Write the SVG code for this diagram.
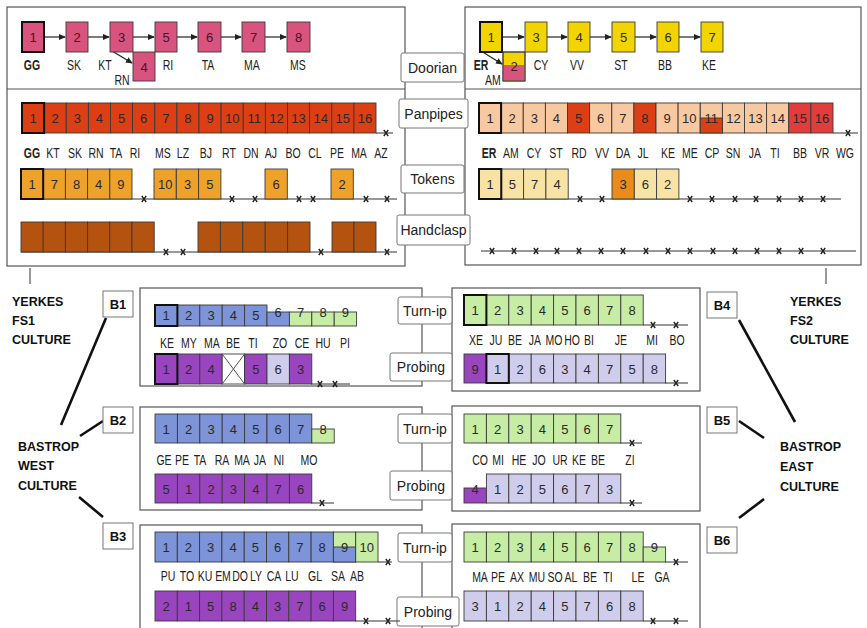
<svg xmlns="http://www.w3.org/2000/svg" xmlns:xlink="http://www.w3.org/1999/xlink" width="867" height="628" viewBox="0 0 867 628">
<defs>
<style>
.pan{fill:none;stroke:#555;stroke-width:1.2}
.c{stroke:#3a3a3a;stroke-width:0.9}
.tk{fill:none;stroke:#111;stroke-width:2}
.n{font-family:"Liberation Sans",Arial,sans-serif;font-size:13px;text-anchor:middle;fill:#2a2a2a}
.l{font-family:"Liberation Sans",Arial,sans-serif;font-size:14px;text-anchor:middle;fill:#222}
.b{font-weight:bold}
.lb{fill:#fff;stroke:#777;stroke-width:1}
.lt{font-family:"Liberation Sans",Arial,sans-serif;font-size:14px;text-anchor:middle;fill:#222}
.bt{font-family:"Liberation Sans",Arial,sans-serif;font-size:13px;font-weight:bold;text-anchor:middle;fill:#111}
.ct{font-family:"Liberation Sans",Arial,sans-serif;font-size:12.5px;font-weight:bold;fill:#111}
.bl{fill:none;stroke:#333;stroke-width:1}
.ar{stroke:#222;stroke-width:1.2;fill:none;marker-end:url(#ah)}
.sl{stroke:#111;stroke-width:2.6}
.pk{fill:#d9537f}.ye{fill:#f2d500}.rd{fill:#dc3f14}.pe{fill:#f8c9a1}.cr{fill:#e23c3c}
.or{fill:#efa22a}.ly{fill:#f8e3a5}.do{fill:#e98c1a}.br{fill:#b4530f}
.bu{fill:#7d94d8}.gr{fill:#c7eda4}.pu{fill:#9a45c0}.lv{fill:#d0cdec}
</style>
<marker id="ah" markerWidth="7" markerHeight="6" refX="6" refY="3" orient="auto" markerUnits="userSpaceOnUse">
<path d="M0,0 L7,3 L0,6 z" fill="#222"/>
</marker>
<g id="xm"><path d="M-2.2,-3 L2.2,3 M2.2,-3 L-2.2,3" stroke="#222" stroke-width="1.4"/></g>
</defs>
<rect width="867" height="628" fill="#fff"/>

<!-- panels -->
<g id="panels">
<rect class="pan" x="7" y="7" width="398" height="259"/>
<line class="pan" x1="7" y1="89" x2="405" y2="89"/>
<rect class="pan" x="465" y="7" width="396" height="258"/>
<line class="pan" x1="465" y1="89" x2="861" y2="89"/>
<rect class="pan" x="140" y="288" width="282" height="98"/>
<rect class="pan" x="452" y="288" width="248" height="103"/>
<rect class="pan" x="140" y="407" width="282" height="103"/>
<rect class="pan" x="452" y="406" width="248" height="105"/>
<rect class="pan" x="140" y="525" width="282" height="120"/>
<rect class="pan" x="452" y="524" width="248" height="120"/>
</g>

<!-- connectors -->
<g id="connectors">
<line class="ar" x1="44" y1="37" x2="65" y2="37"/>
<line class="ar" x1="88" y1="37" x2="109" y2="37"/>
<line class="ar" x1="133" y1="37" x2="154" y2="37"/>
<line class="ar" x1="177" y1="37" x2="197" y2="37"/>
<line class="ar" x1="221" y1="37" x2="241" y2="37"/>
<line class="ar" x1="265" y1="37" x2="286" y2="37"/>
<line class="ar" x1="112" y1="51" x2="132" y2="63"/>
<line class="ar" x1="502" y1="37" x2="524" y2="37"/>
<line class="ar" x1="547" y1="37" x2="567" y2="37"/>
<line class="ar" x1="590" y1="37" x2="611" y2="37"/>
<line class="ar" x1="635" y1="37" x2="656" y2="37"/>
<line class="ar" x1="679" y1="37" x2="700" y2="37"/>
<line class="ar" x1="481" y1="51" x2="502" y2="64"/>
<line class="bl" x1="30" y1="268" x2="30" y2="284"/>
<line class="bl" x1="826" y1="268" x2="826" y2="284"/>
<line class="sl" x1="106" y1="318" x2="61" y2="425"/>
<line class="sl" x1="103" y1="421" x2="80" y2="436"/>
<line class="sl" x1="79" y1="497" x2="103" y2="517"/>
<line class="sl" x1="739" y1="320" x2="795" y2="422"/>
<line class="sl" x1="739" y1="421" x2="764" y2="438"/>
<line class="sl" x1="764" y1="499" x2="739" y2="518"/>
</g>

<!-- centre labels -->
<g id="lab-doorian"><rect class="lb" x="401" y="53" width="63" height="29" rx="2"/><text class="lt" x="432.5" y="72.5">Doorian</text></g>
<g id="lab-panpipes"><rect class="lb" x="399" y="99" width="69" height="29" rx="2"/><text class="lt" x="433.5" y="118.5">Panpipes</text></g>
<g id="lab-tokens"><rect class="lb" x="401" y="165" width="63" height="28" rx="2"/><text class="lt" x="432.5" y="184">Tokens</text></g>
<g id="lab-handclasp"><rect class="lb" x="397" y="215" width="73" height="30" rx="2"/><text class="lt" x="433.5" y="235">Handclasp</text></g>

<!-- Doorian left -->
<g id="doorian-left">
<rect class="c pk" x="22" y="22" width="22" height="30"/><rect class="tk" x="22" y="22" width="22" height="30"/>
<rect class="c pk" x="66" y="22" width="22" height="30"/>
<rect class="c pk" x="110" y="22" width="23" height="30"/>
<rect class="c pk" x="133" y="52" width="22" height="29"/>
<rect class="c pk" x="155" y="22" width="22" height="30"/>
<rect class="c pk" x="198" y="22" width="23" height="30"/>
<rect class="c pk" x="242" y="22" width="23" height="30"/>
<rect class="c pk" x="287" y="22" width="23" height="30"/>
<g class="n" style="fill:#4a1028">
<text x="33" y="41.5">1</text><text x="77" y="41.5">2</text><text x="121.5" y="41.5">3</text><text x="144" y="71.5">4</text>
<text x="166" y="41.5">5</text><text x="209.5" y="41.5">6</text><text x="253.5" y="41.5">7</text><text x="298.5" y="41.5">8</text>
</g>
<g class="l" transform="scale(0.75,1)">
<text class="b" x="42.67" y="70">GG</text><text x="98.67" y="70">SK</text><text x="140" y="70">KT</text><text x="224" y="70">RI</text>
<text x="277.33" y="70">TA</text><text x="336" y="70">MA</text><text x="397.33" y="70">MS</text><text x="162.67" y="85">RN</text>
</g>
</g>

<!-- Doorian right -->
<g id="doorian-right">
<rect class="c ye" x="480" y="22" width="22" height="30"/><rect class="tk" x="480" y="22" width="22" height="30"/>
<rect class="c ye" x="503" y="52" width="22" height="29"/>
<rect class="pk" x="503.5" y="65" width="21" height="15.5"/>
<rect class="c" fill="none" x="503" y="52" width="22" height="29"/>
<rect class="c ye" x="525" y="22" width="22" height="30"/>
<rect class="c ye" x="568" y="22" width="22" height="30"/>
<rect class="c ye" x="612" y="22" width="23" height="30"/>
<rect class="c ye" x="657" y="22" width="22" height="30"/>
<rect class="c ye" x="701" y="22" width="22" height="30"/>
<g class="n">
<text x="491" y="41.5">1</text><text x="514" y="70.5">2</text><text x="536" y="41.5">3</text><text x="579" y="41.5">4</text>
<text x="623.5" y="41.5">5</text><text x="668" y="41.5">6</text><text x="712" y="41.5">7</text>
</g>
<g class="l" transform="scale(0.75,1)">
<text class="b" x="641.33" y="70">ER</text><text x="657.33" y="85">AM</text><text x="721.33" y="70">CY</text><text x="769.33" y="70">VV</text>
<text x="828" y="70">ST</text><text x="886.67" y="70">BB</text><text x="945.33" y="70">KE</text>
</g>
</g>

<!-- Panpipes left -->
<g id="panpipes-left">
<line class="bl" x1="376" y1="133" x2="393" y2="133"/><use xlink:href="#xm" x="386" y="133"/>
<g class="c rd">
<rect x="22" y="103" width="22.1" height="30"/><rect x="44.1" y="103" width="22.1" height="30"/><rect x="66.3" y="103" width="22.1" height="30"/><rect x="88.4" y="103" width="22.1" height="30"/>
<rect x="110.5" y="103" width="22.1" height="30"/><rect x="132.6" y="103" width="22.1" height="30"/><rect x="154.8" y="103" width="22.1" height="30"/><rect x="176.9" y="103" width="22.1" height="30"/>
<rect x="199" y="103" width="22.1" height="30"/><rect x="221.1" y="103" width="22.1" height="30"/><rect x="243.3" y="103" width="22.1" height="30"/><rect x="265.4" y="103" width="22.1" height="30"/>
<rect x="287.5" y="103" width="22.1" height="30"/><rect x="309.6" y="103" width="22.1" height="30"/><rect x="331.8" y="103" width="22.1" height="30"/><rect x="353.9" y="103" width="22.1" height="30"/>
</g>
<rect class="tk" x="22" y="103" width="22.1" height="30"/>
<g class="n">
<text x="33.1" y="122.5">1</text><text x="55.2" y="122.5">2</text><text x="77.3" y="122.5">3</text><text x="99.4" y="122.5">4</text>
<text x="121.6" y="122.5">5</text><text x="143.7" y="122.5">6</text><text x="165.8" y="122.5">7</text><text x="187.9" y="122.5">8</text>
<text x="210.1" y="122.5">9</text><text x="232.2" y="122.5">10</text><text x="254.3" y="122.5">11</text><text x="276.4" y="122.5">12</text>
<text x="298.6" y="122.5">13</text><text x="320.7" y="122.5">14</text><text x="342.8" y="122.5">15</text><text x="364.9" y="122.5">16</text>
</g>
<g class="l" transform="scale(0.75,1)">
<text class="b" x="42.67" y="158">GG</text><text x="70.67" y="158">KT</text><text x="100" y="158">SK</text><text x="128" y="158">RN</text>
<text x="154.67" y="158">TA</text><text x="180" y="158">RI</text><text x="217.33" y="158">MS</text><text x="244" y="158">LZ</text>
<text x="274.67" y="158">BJ</text><text x="305.33" y="158">RT</text><text x="334.67" y="158">DN</text><text x="361.33" y="158">AJ</text>
<text x="390.67" y="158">BO</text><text x="420" y="158">CL</text><text x="449.33" y="158">PE</text><text x="478.67" y="158">MA</text><text x="508" y="158">AZ</text>
</g>
</g>

<!-- Panpipes right -->
<g id="panpipes-right">
<line class="bl" x1="833" y1="133" x2="858" y2="133"/><use xlink:href="#xm" x="848" y="133"/>
<g class="c">
<rect class="pe" x="479" y="103" width="22.1" height="30"/><rect class="pe" x="501.1" y="103" width="22.1" height="30"/><rect class="pe" x="523.3" y="103" width="22.1" height="30"/><rect class="pe" x="545.4" y="103" width="22.1" height="30"/>
<rect class="rd" x="567.5" y="103" width="22.1" height="30"/><rect class="pe" x="589.6" y="103" width="22.1" height="30"/><rect class="pe" x="611.8" y="103" width="22.1" height="30"/><rect class="rd" x="633.9" y="103" width="22.1" height="30"/>
<rect class="pe" x="656" y="103" width="22.1" height="30"/><rect class="pe" x="678.1" y="103" width="22.1" height="30"/><rect class="pe" x="700.3" y="103" width="22.1" height="30"/><rect class="pe" x="722.4" y="103" width="22.1" height="30"/>
<rect class="pe" x="744.5" y="103" width="22.1" height="30"/><rect class="pe" x="766.6" y="103" width="22.1" height="30"/><rect class="cr" x="788.8" y="103" width="22.1" height="30"/><rect class="cr" x="810.9" y="103" width="22.1" height="30"/>
<rect class="rd" x="700.3" y="118" width="22.1" height="15"/>
</g>
<rect class="tk" x="479" y="103" width="22.1" height="30"/>
<g class="n">
<text x="490.1" y="122.5">1</text><text x="512.2" y="122.5">2</text><text x="534.3" y="122.5">3</text><text x="556.4" y="122.5">4</text>
<text x="578.6" y="122.5">5</text><text x="600.7" y="122.5">6</text><text x="622.8" y="122.5">7</text><text x="644.9" y="122.5">8</text>
<text x="667.1" y="122.5">9</text><text x="689.2" y="122.5">10</text><text x="711.3" y="122.5">11</text><text x="733.4" y="122.5">12</text>
<text x="755.6" y="122.5">13</text><text x="777.7" y="122.5">14</text><text x="799.8" y="122.5">15</text><text x="821.9" y="122.5">16</text>
</g>
<g class="l" transform="scale(0.75,1)">
<text class="b" x="652" y="158">ER</text><text x="681.33" y="158">AM</text><text x="712" y="158">CY</text><text x="741.33" y="158">ST</text>
<text x="772" y="158">RD</text><text x="802.67" y="158">VV</text><text x="830.67" y="158">DA</text><text x="857.33" y="158">JL</text>
<text x="890.67" y="158">KE</text><text x="920" y="158">ME</text><text x="949.33" y="158">CP</text><text x="977.33" y="158">SN</text>
<text x="1006.67" y="158">JA</text><text x="1033.33" y="158">TI</text><text x="1066.67" y="158">BB</text><text x="1096" y="158">VR</text><text x="1126.67" y="158">WG</text>
</g>
</g>

<!-- Tokens left -->
<g id="tokens-left">
<line class="bl" x1="21" y1="199" x2="397" y2="199"/>
<g class="c or">
<rect x="21" y="169" width="22.2" height="30"/><rect x="43.2" y="169" width="22.2" height="30"/><rect x="65.4" y="169" width="22.2" height="30"/><rect x="87.6" y="169" width="22.2" height="30"/><rect x="109.8" y="169" width="22.2" height="30"/>
<rect x="154" y="169" width="22.3" height="30"/><rect x="176.3" y="169" width="22.3" height="30"/><rect x="198.6" y="169" width="22.3" height="30"/>
<rect x="265" y="169" width="22.3" height="30"/>
<rect x="331" y="169" width="22.3" height="30"/>
</g>
<rect class="tk" x="21" y="169" width="22.2" height="30"/>
<g class="n">
<text x="32.1" y="188.5">1</text><text x="54.3" y="188.5">7</text><text x="76.5" y="188.5">8</text><text x="98.7" y="188.5">4</text><text x="120.9" y="188.5">9</text>
<text x="165.2" y="188.5">10</text><text x="187.5" y="188.5">3</text><text x="209.8" y="188.5">5</text><text x="276.2" y="188.5">6</text><text x="342.2" y="188.5">2</text>
</g>
<use xlink:href="#xm" x="144" y="199"/><use xlink:href="#xm" x="232" y="199"/><use xlink:href="#xm" x="255" y="199"/>
<use xlink:href="#xm" x="299" y="199"/><use xlink:href="#xm" x="313" y="199"/><use xlink:href="#xm" x="366" y="199"/><use xlink:href="#xm" x="387" y="199"/>
</g>

<!-- Handclasp left -->
<g id="handclasp-left">
<line class="bl" x1="21" y1="252" x2="397" y2="252"/>
<g class="c br">
<rect x="21" y="222" width="22.2" height="30"/><rect x="43.2" y="222" width="22.2" height="30"/><rect x="65.4" y="222" width="22.2" height="30"/><rect x="87.6" y="222" width="22.2" height="30"/><rect x="109.8" y="222" width="22.2" height="30"/><rect x="132" y="222" width="22.2" height="30"/>
<rect x="198" y="222" width="22.4" height="30"/><rect x="220.4" y="222" width="22.4" height="30"/><rect x="242.8" y="222" width="22.4" height="30"/><rect x="265.2" y="222" width="22.4" height="30"/><rect x="287.6" y="222" width="22.4" height="30"/>
<rect x="332" y="222" width="22" height="30"/><rect x="354" y="222" width="22" height="30"/>
</g>
<use xlink:href="#xm" x="166" y="252"/><use xlink:href="#xm" x="183" y="252"/><use xlink:href="#xm" x="321" y="252"/><use xlink:href="#xm" x="387" y="252"/>
</g>

<!-- Tokens right -->
<g id="tokens-right">
<line class="bl" x1="479" y1="199" x2="841" y2="199"/>
<g class="c">
<rect class="ly" x="479" y="169" width="22.3" height="30"/><rect class="ly" x="501.3" y="169" width="22.3" height="30"/><rect class="ly" x="523.6" y="169" width="22.3" height="30"/><rect class="ly" x="545.9" y="169" width="22.3" height="30"/>
<rect class="do" x="612" y="169" width="22.3" height="30"/><rect class="ly" x="634.3" y="169" width="22.3" height="30"/><rect class="ly" x="656.6" y="169" width="22.3" height="30"/>
</g>
<rect class="tk" x="479" y="169" width="22.3" height="30"/>
<g class="n">
<text x="490.1" y="188.5">1</text><text x="512.4" y="188.5">5</text><text x="534.7" y="188.5">7</text><text x="557" y="188.5">4</text>
<text x="623.1" y="188.5">3</text><text x="645.4" y="188.5">6</text><text x="667.7" y="188.5">2</text>
</g>
<use xlink:href="#xm" x="580" y="199"/><use xlink:href="#xm" x="602" y="199"/><use xlink:href="#xm" x="690" y="199"/><use xlink:href="#xm" x="712" y="199"/><use xlink:href="#xm" x="735" y="199"/>
<use xlink:href="#xm" x="756" y="199"/><use xlink:href="#xm" x="779" y="199"/><use xlink:href="#xm" x="801" y="199"/><use xlink:href="#xm" x="823" y="199"/>
</g>

<!-- Handclasp right -->
<g id="handclasp-right">
<line class="bl" x1="481" y1="251" x2="856" y2="251"/>
<use xlink:href="#xm" x="492" y="251"/><use xlink:href="#xm" x="514" y="251"/><use xlink:href="#xm" x="536" y="251"/><use xlink:href="#xm" x="557" y="251"/>
<use xlink:href="#xm" x="579" y="251"/><use xlink:href="#xm" x="601" y="251"/><use xlink:href="#xm" x="623" y="251"/><use xlink:href="#xm" x="646" y="251"/>
<use xlink:href="#xm" x="668" y="251"/><use xlink:href="#xm" x="690" y="251"/><use xlink:href="#xm" x="713" y="251"/><use xlink:href="#xm" x="735" y="251"/>
<use xlink:href="#xm" x="757" y="251"/><use xlink:href="#xm" x="779" y="251"/><use xlink:href="#xm" x="801" y="251"/><use xlink:href="#xm" x="823" y="251"/>
</g>

<!-- culture labels -->
<g id="yerkes-fs1"><text class="ct" x="12" y="306">YERKES</text><text class="ct" x="12" y="325">FS1</text><text class="ct" x="12" y="344">CULTURE</text></g>
<g id="yerkes-fs2"><text class="ct" x="790" y="306">YERKES</text><text class="ct" x="790" y="325">FS2</text><text class="ct" x="790" y="344">CULTURE</text></g>
<g id="bastrop-west"><text class="ct" x="18" y="451">BASTROP</text><text class="ct" x="18" y="470">WEST</text><text class="ct" x="18" y="490">CULTURE</text></g>
<g id="bastrop-east"><text class="ct" x="780" y="451">BASTROP</text><text class="ct" x="780" y="471">EAST</text><text class="ct" x="780" y="491">CULTURE</text></g>

<!-- B boxes -->
<g id="b1"><rect class="lb" x="103" y="291" width="30" height="26"/><text class="bt" x="118" y="309">B1</text></g>
<g id="b2"><rect class="lb" x="103" y="407" width="30" height="26"/><text class="bt" x="118" y="425">B2</text></g>
<g id="b3"><rect class="lb" x="103" y="523" width="30" height="26"/><text class="bt" x="118" y="541">B3</text></g>
<g id="b4"><rect class="lb" x="707" y="292" width="30" height="26"/><text class="bt" x="722" y="310">B4</text></g>
<g id="b5"><rect class="lb" x="707" y="407" width="30" height="26"/><text class="bt" x="722" y="425">B5</text></g>
<g id="b6"><rect class="lb" x="707" y="527" width="30" height="26"/><text class="bt" x="722" y="545">B6</text></g>

<!-- Turn-ip / Probing labels -->
<g id="lab-turnip-1"><rect class="lb" x="398" y="297" width="54" height="27" rx="2"/><text class="lt" x="425" y="315.5">Turn-ip</text></g>
<g id="lab-probing-1"><rect class="lb" x="390" y="353" width="62" height="28" rx="2"/><text class="lt" x="421" y="372">Probing</text></g>
<g id="lab-turnip-2"><rect class="lb" x="398" y="414" width="54" height="29" rx="2"/><text class="lt" x="425" y="433.5">Turn-ip</text></g>
<g id="lab-probing-2"><rect class="lb" x="390" y="471" width="62" height="29" rx="2"/><text class="lt" x="421" y="490.5">Probing</text></g>
<g id="lab-turnip-3"><rect class="lb" x="398" y="533" width="54" height="29" rx="2"/><text class="lt" x="425" y="552.5">Turn-ip</text></g>
<g id="lab-probing-3"><rect class="lb" x="397" y="597" width="62" height="29" rx="2"/><text class="lt" x="428" y="616.5">Probing</text></g>

<!-- B1 -->
<g id="b1-rows">
<g class="c">
<rect class="bu" x="155" y="305" width="22.4" height="21"/><rect class="bu" x="177.4" y="305" width="22.4" height="21"/><rect class="bu" x="199.8" y="305" width="22.4" height="21"/><rect class="bu" x="222.2" y="305" width="22.4" height="21"/><rect class="bu" x="244.6" y="305" width="22.4" height="21"/>
<rect class="bu" x="267" y="312" width="22.4" height="14"/><rect class="gr" x="289.4" y="312" width="22.4" height="14"/><rect class="gr" x="311.8" y="312" width="22.4" height="14"/><rect class="gr" x="334.2" y="312" width="22.4" height="14"/>
</g>
<rect class="tk" x="155" y="305" width="22.4" height="21"/>
<g class="n">
<text x="166.2" y="320">1</text><text x="188.6" y="320">2</text><text x="211" y="320">3</text><text x="233.4" y="320">4</text><text x="255.8" y="320">5</text>
<text x="278.2" y="316.5">6</text><text x="300.6" y="316.5">7</text><text x="323" y="316.5">8</text><text x="345.4" y="316.5">9</text>
</g>
<g class="l" transform="scale(0.75,1)">
<text x="222.67" y="348">KE</text><text x="252" y="348">MY</text><text x="282.67" y="348">MA</text><text x="310.67" y="348">BE</text><text x="337.33" y="348">TI</text>
<text x="373.33" y="348">ZO</text><text x="402.67" y="348">CE</text><text x="430.67" y="348">HU</text><text x="460" y="348">PI</text>
</g>
<line class="bl" x1="311" y1="384" x2="350" y2="384"/><use xlink:href="#xm" x="320" y="384"/><use xlink:href="#xm" x="335" y="384"/>
<g class="c">
<rect class="pu" x="155" y="354" width="22.4" height="30"/><rect class="pu" x="177.4" y="354" width="22.4" height="30"/><rect class="pu" x="199.8" y="354" width="22.4" height="30"/>
<rect fill="#fff" x="222.2" y="354" width="22.4" height="30"/>
<rect class="pu" x="244.6" y="354" width="22.4" height="30"/><rect class="lv" x="267" y="354" width="22.4" height="30"/><rect class="pu" x="289.4" y="354" width="22.4" height="30"/>
</g>
<path d="M222.2,354 L244.6,384 M244.6,354 L222.2,384" stroke="#555" stroke-width="1"/>
<rect class="tk" x="155" y="354" width="22.4" height="30"/>
<g class="n">
<text x="166.2" y="373.5">1</text><text x="188.6" y="373.5">2</text><text x="211" y="373.5">4</text><text x="255.8" y="373.5">5</text><text x="278.2" y="373.5">6</text><text x="300.6" y="373.5">3</text>
</g>
</g>

<!-- B4 -->
<g id="b4-rows">
<line class="bl" x1="643" y1="325" x2="688" y2="325"/><use xlink:href="#xm" x="653" y="325"/><use xlink:href="#xm" x="676" y="325"/>
<g class="c gr">
<rect x="464" y="295" width="22.4" height="30"/><rect x="486.4" y="295" width="22.4" height="30"/><rect x="508.8" y="295" width="22.4" height="30"/><rect x="531.2" y="295" width="22.4" height="30"/>
<rect x="553.6" y="295" width="22.4" height="30"/><rect x="576" y="295" width="22.4" height="30"/><rect x="598.4" y="295" width="22.4" height="30"/><rect x="620.8" y="295" width="22.4" height="30"/>
</g>
<rect class="tk" x="464" y="295" width="22.4" height="30"/>
<g class="n">
<text x="475.2" y="314.5">1</text><text x="497.6" y="314.5">2</text><text x="520" y="314.5">3</text><text x="542.4" y="314.5">4</text>
<text x="564.8" y="314.5">5</text><text x="587.2" y="314.5">6</text><text x="609.6" y="314.5">7</text><text x="632" y="314.5">8</text>
</g>
<g class="l" transform="scale(0.75,1)">
<text x="634.67" y="345">XE</text><text x="661.33" y="345">JU</text><text x="686.67" y="345">BE</text><text x="713.33" y="345">JA</text><text x="738.67" y="345">MO</text>
<text x="762.67" y="345">HO</text><text x="785.33" y="345">BI</text><text x="828" y="345">JE</text><text x="869.33" y="345">MI</text><text x="902.67" y="345">BO</text>
</g>
<line class="bl" x1="665" y1="383" x2="688" y2="383"/><use xlink:href="#xm" x="676" y="383"/>
<g class="c">
<rect class="pu" x="464" y="354" width="22.4" height="29"/><rect class="lv" x="486.4" y="354" width="22.4" height="29"/><rect class="lv" x="508.8" y="354" width="22.4" height="29"/>
<rect class="lv" x="531.2" y="354" width="22.4" height="29"/><rect class="lv" x="553.6" y="354" width="22.4" height="29"/><rect class="lv" x="576" y="354" width="22.4" height="29"/>
<rect class="lv" x="598.4" y="354" width="22.4" height="29"/><rect class="lv" x="620.8" y="354" width="22.4" height="29"/><rect class="lv" x="643.2" y="354" width="22.4" height="29"/>
</g>
<rect class="tk" x="486.4" y="354" width="22.4" height="29"/>
<g class="n">
<text x="475.2" y="373.5">9</text><text x="497.6" y="373.5">1</text><text x="520" y="373.5">2</text><text x="542.4" y="373.5">6</text><text x="564.8" y="373.5">3</text>
<text x="587.2" y="373.5">4</text><text x="609.6" y="373.5">7</text><text x="632" y="373.5">5</text><text x="654.4" y="373.5">8</text>
</g>
</g>

<!-- B2 -->
<g id="b2-rows">
<g class="c">
<rect class="bu" x="155" y="414" width="22.4" height="29"/><rect class="bu" x="177.4" y="414" width="22.4" height="29"/><rect class="bu" x="199.8" y="414" width="22.4" height="29"/><rect class="bu" x="222.2" y="414" width="22.4" height="29"/>
<rect class="bu" x="244.6" y="414" width="22.4" height="29"/><rect class="bu" x="267" y="414" width="22.4" height="29"/><rect class="bu" x="289.4" y="414" width="22.4" height="29"/>
<rect class="gr" x="311.8" y="429" width="22.4" height="14"/>
</g>
<g class="n">
<text x="166.2" y="433.5">1</text><text x="188.6" y="433.5">2</text><text x="211" y="433.5">3</text><text x="233.4" y="433.5">4</text>
<text x="255.8" y="433.5">5</text><text x="278.2" y="433.5">6</text><text x="300.6" y="433.5">7</text><text x="323" y="433.5">8</text>
</g>
<g class="l" transform="scale(0.75,1)">
<text x="218.67" y="465">GE</text><text x="242.67" y="465">PE</text><text x="266.67" y="465">TA</text><text x="296" y="465">RA</text>
<text x="322.67" y="465">MA</text><text x="346.67" y="465">JA</text><text x="372" y="465">NI</text><text x="412" y="465">MO</text>
</g>
<line class="bl" x1="311" y1="503" x2="334" y2="503"/><use xlink:href="#xm" x="322" y="503"/>
<g class="c pu">
<rect x="155" y="474" width="22.4" height="29"/><rect x="177.4" y="474" width="22.4" height="29"/><rect x="199.8" y="474" width="22.4" height="29"/><rect x="222.2" y="474" width="22.4" height="29"/>
<rect x="244.6" y="474" width="22.4" height="29"/><rect x="267" y="474" width="22.4" height="29"/><rect x="289.4" y="474" width="22.4" height="29"/>
</g>
<g class="n">
<text x="166.2" y="493.5">5</text><text x="188.6" y="493.5">1</text><text x="211" y="493.5">2</text><text x="233.4" y="493.5">3</text>
<text x="255.8" y="493.5">4</text><text x="278.2" y="493.5">7</text><text x="300.6" y="493.5">6</text>
</g>
</g>

<!-- B5 -->
<g id="b5-rows">
<line class="bl" x1="620" y1="443" x2="642" y2="443"/><use xlink:href="#xm" x="632" y="443"/>
<g class="c gr">
<rect x="464" y="414" width="22.4" height="29"/><rect x="486.4" y="414" width="22.4" height="29"/><rect x="508.8" y="414" width="22.4" height="29"/><rect x="531.2" y="414" width="22.4" height="29"/>
<rect x="553.6" y="414" width="22.4" height="29"/><rect x="576" y="414" width="22.4" height="29"/><rect x="598.4" y="414" width="22.4" height="29"/>
</g>
<g class="n">
<text x="475.2" y="433.5">1</text><text x="497.6" y="433.5">2</text><text x="520" y="433.5">3</text><text x="542.4" y="433.5">4</text>
<text x="564.8" y="433.5">5</text><text x="587.2" y="433.5">6</text><text x="609.6" y="433.5">7</text>
</g>
<g class="l" transform="scale(0.75,1)">
<text x="640" y="465">CO</text><text x="664" y="465">MI</text><text x="692" y="465">HE</text><text x="718.67" y="465">JO</text>
<text x="746.67" y="465">UR</text><text x="772" y="465">KE</text><text x="797.33" y="465">BE</text><text x="840" y="465">ZI</text>
</g>
<line class="bl" x1="620" y1="503" x2="642" y2="503"/><use xlink:href="#xm" x="632" y="503"/>
<g class="c">
<rect class="pu" x="464" y="488" width="22.4" height="15"/>
<rect class="lv" x="486.4" y="474" width="22.4" height="29"/><rect class="lv" x="508.8" y="474" width="22.4" height="29"/><rect class="lv" x="531.2" y="474" width="22.4" height="29"/>
<rect class="lv" x="553.6" y="474" width="22.4" height="29"/><rect class="lv" x="576" y="474" width="22.4" height="29"/><rect class="lv" x="598.4" y="474" width="22.4" height="29"/>
</g>
<g class="n">
<text x="475.2" y="493.5">4</text><text x="497.6" y="493.5">1</text><text x="520" y="493.5">2</text><text x="542.4" y="493.5">5</text>
<text x="564.8" y="493.5">6</text><text x="587.2" y="493.5">7</text><text x="609.6" y="493.5">3</text>
</g>
</g>

<!-- B3 -->
<g id="b3-rows">
<line class="bl" x1="378" y1="562" x2="392" y2="562"/><use xlink:href="#xm" x="388" y="562"/>
<g class="c">
<rect class="bu" x="155" y="532" width="22.3" height="30"/><rect class="bu" x="177.3" y="532" width="22.3" height="30"/><rect class="bu" x="199.6" y="532" width="22.3" height="30"/><rect class="bu" x="221.9" y="532" width="22.3" height="30"/>
<rect class="bu" x="244.2" y="532" width="22.3" height="30"/><rect class="bu" x="266.5" y="532" width="22.3" height="30"/><rect class="bu" x="288.8" y="532" width="22.3" height="30"/><rect class="bu" x="311.1" y="532" width="22.3" height="30"/>
<rect class="gr" x="333.4" y="532" width="22.3" height="30"/><rect class="bu" x="333.4" y="547" width="22.3" height="15"/>
<rect class="gr" x="355.7" y="532" width="22.3" height="30"/>
</g>
<g class="n">
<text x="166.1" y="551.5">1</text><text x="188.4" y="551.5">2</text><text x="210.7" y="551.5">3</text><text x="233" y="551.5">4</text>
<text x="255.3" y="551.5">5</text><text x="277.6" y="551.5">6</text><text x="299.9" y="551.5">7</text><text x="322.2" y="551.5">8</text>
<text x="344.5" y="551.5">9</text><text x="366.8" y="551.5">10</text>
</g>
<g class="l" transform="scale(0.75,1)">
<text x="224" y="581">PU</text><text x="249.33" y="581">TO</text><text x="273.33" y="581">KU</text><text x="297.33" y="581">EM</text><text x="320" y="581">DO</text>
<text x="341.33" y="581">LY</text><text x="365.33" y="581">CA</text><text x="389.33" y="581">LU</text><text x="420" y="581">GL</text><text x="450.67" y="581">SA</text><text x="476" y="581">AB</text>
</g>
<line class="bl" x1="355" y1="621" x2="400" y2="621"/><use xlink:href="#xm" x="366" y="621"/><use xlink:href="#xm" x="388" y="621"/>
<g class="c pu">
<rect x="155" y="591" width="22.3" height="30"/><rect x="177.3" y="591" width="22.3" height="30"/><rect x="199.6" y="591" width="22.3" height="30"/><rect x="221.9" y="591" width="22.3" height="30"/>
<rect x="244.2" y="591" width="22.3" height="30"/><rect x="266.5" y="591" width="22.3" height="30"/><rect x="288.8" y="591" width="22.3" height="30"/><rect x="311.1" y="591" width="22.3" height="30"/>
<rect x="333.4" y="591" width="22.3" height="30"/>
</g>
<g class="n">
<text x="166.1" y="610.5">2</text><text x="188.4" y="610.5">1</text><text x="210.7" y="610.5">5</text><text x="233" y="610.5">8</text>
<text x="255.3" y="610.5">4</text><text x="277.6" y="610.5">3</text><text x="299.9" y="610.5">7</text><text x="322.2" y="610.5">6</text><text x="344.5" y="610.5">9</text>
</g>
</g>

<!-- B6 -->
<g id="b6-rows">
<line class="bl" x1="665" y1="562" x2="688" y2="562"/><use xlink:href="#xm" x="676" y="562"/>
<g class="c gr">
<rect x="464" y="532" width="22.4" height="30"/><rect x="486.4" y="532" width="22.4" height="30"/><rect x="508.8" y="532" width="22.4" height="30"/><rect x="531.2" y="532" width="22.4" height="30"/>
<rect x="553.6" y="532" width="22.4" height="30"/><rect x="576" y="532" width="22.4" height="30"/><rect x="598.4" y="532" width="22.4" height="30"/><rect x="620.8" y="532" width="22.4" height="30"/>
<rect x="643.2" y="547" width="22.4" height="15"/>
</g>
<g class="n">
<text x="475.2" y="551.5">1</text><text x="497.6" y="551.5">2</text><text x="520" y="551.5">3</text><text x="542.4" y="551.5">4</text>
<text x="564.8" y="551.5">5</text><text x="587.2" y="551.5">6</text><text x="609.6" y="551.5">7</text><text x="632" y="551.5">8</text><text x="654.4" y="551.5">9</text>
</g>
<g class="l" transform="scale(0.75,1)">
<text x="640" y="582">MA</text><text x="664" y="582">PE</text><text x="689.33" y="582">AX</text><text x="716" y="582">MU</text><text x="740" y="582">SO</text>
<text x="761.33" y="582">AL</text><text x="786.67" y="582">BE</text><text x="810.67" y="582">TI</text><text x="850.67" y="582">LE</text><text x="882.67" y="582">GA</text>
</g>
<line class="bl" x1="643" y1="621" x2="688" y2="621"/><use xlink:href="#xm" x="653" y="621"/><use xlink:href="#xm" x="676" y="621"/>
<g class="c lv">
<rect x="464" y="591" width="22.4" height="30"/><rect x="486.4" y="591" width="22.4" height="30"/><rect x="508.8" y="591" width="22.4" height="30"/><rect x="531.2" y="591" width="22.4" height="30"/>
<rect x="553.6" y="591" width="22.4" height="30"/><rect x="576" y="591" width="22.4" height="30"/><rect x="598.4" y="591" width="22.4" height="30"/><rect x="620.8" y="591" width="22.4" height="30"/>
</g>
<g class="n">
<text x="475.2" y="610.5">3</text><text x="497.6" y="610.5">1</text><text x="520" y="610.5">2</text><text x="542.4" y="610.5">4</text>
<text x="564.8" y="610.5">5</text><text x="587.2" y="610.5">7</text><text x="609.6" y="610.5">6</text><text x="632" y="610.5">8</text>
</g>
</g>
</svg>
